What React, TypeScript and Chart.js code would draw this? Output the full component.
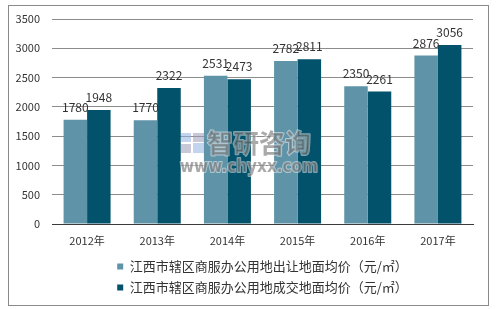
import React, { useEffect, useRef } from "react";
import { Chart, registerables } from "chart.js";

Chart.register(...registerables);

const categories = ["2012年", "2013年", "2014年", "2015年", "2016年", "2017年"];
const transferPrice = [1780, 1770, 2531, 2782, 2350, 2876];
const dealPrice = [1948, 2322, 2473, 2811, 2261, 3056];
const seriesNames = [
  "江西市辖区商服办公用地出让地面均价（元/㎡）",
  "江西市辖区商服办公用地成交地面均价（元/㎡）",
];
const yMin = 0;
const yMax = 3500;
const yStep = 500;

const LIGHT = "#5E93A8";
const DARK = "#02526B";
const FONT = "'Noto Sans CJK SC', 'Noto Sans', sans-serif";

const valueLabels = {
  id: "valueLabels",
  afterDatasetsDraw(chart: any) {
    const ctx = chart.ctx;
    ctx.save();
    ctx.font = `12px ${FONT}`;
    ctx.fillStyle = "#333333";
    ctx.textAlign = "center";
    ctx.textBaseline = "alphabetic";
    chart.data.datasets.forEach((ds: any, di: number) => {
      const meta = chart.getDatasetMeta(di);
      meta.data.forEach((el: any, i: number) => {
        ctx.fillText(String(ds.data[i]), el.x, el.y - 8);
      });
    });
    ctx.restore();
  },
};

const frameAndMark = {
  id: "frameAndMark",
  beforeDraw(chart: any) {
    const ctx = chart.ctx;
    ctx.save();
    ctx.fillStyle = "#ffffff";
    ctx.fillRect(0, 0, chart.width, chart.height);
    ctx.strokeStyle = "#8a8a8a";
    ctx.lineWidth = 1;
    ctx.strokeRect(8.5, 5.5, 480, 300);
    ctx.restore();
  },
  afterDatasetsDraw(chart: any) {
    const ctx = chart.ctx;
    ctx.save();
    // logo
    ctx.globalAlpha = 0.55;
    ctx.fillStyle = "#8fb0e0";
    ctx.fillRect(181, 133, 10, 9);
    ctx.fillRect(193, 143, 11, 10);
    ctx.fillStyle = "#9a9ab8";
    ctx.fillRect(181, 144, 10, 9);
    ctx.fillRect(193, 133, 11, 9);
    ctx.globalAlpha = 0.6;
    ctx.textAlign = "left";
    ctx.textBaseline = "middle";
    ctx.lineJoin = "round";
    ctx.font = `bold 26px ${FONT}`;
    ctx.strokeStyle = "rgba(255,255,255,0.8)";
    ctx.lineWidth = 2;
    ctx.strokeText("智研咨询", 207, 143, 112);
    ctx.fillStyle = "#707070";
    ctx.fillText("智研咨询", 207, 143, 112);
    ctx.font = `bold 17px 'DejaVu Sans', sans-serif`;
    ctx.strokeText("www.chyxx.com", 180, 168, 138);
    ctx.fillText("www.chyxx.com", 180, 168, 138);
    ctx.restore();
  },
};

export default function App() {
  const ref = useRef<HTMLCanvasElement | null>(null);

  useEffect(() => {
    if (!ref.current) return;
    const chart = new Chart(ref.current, {
      type: "bar",
      data: {
        labels: categories,
        datasets: [
          {
            label: seriesNames[0],
            data: transferPrice,
            backgroundColor: LIGHT,
            borderColor: LIGHT,
            borderWidth: 0,
            categoryPercentage: 0.67,
            barPercentage: 1,
          },
          {
            label: seriesNames[1],
            data: dealPrice,
            backgroundColor: DARK,
            borderColor: DARK,
            borderWidth: 0,
            categoryPercentage: 0.67,
            barPercentage: 1,
          },
        ],
      },
      options: {
        responsive: false,
        animation: false,
        devicePixelRatio: 1,
        layout: { padding: { left: 0, right: 25, top: 19, bottom: 5 } },
        plugins: {
          tooltip: { enabled: false },
          legend: {
            position: "bottom",
            fullSize: false,
            labels: {
              boxWidth: 6,
              boxHeight: 6,
              padding: 8,
              color: "#333333",
              font: { family: FONT, size: 13 },
            },
          },
        },
        scales: {
          x: {
            grid: { display: true, drawOnChartArea: false, drawTicks: false },
            border: { display: true, color: "#3a3a3a", width: 1 },
            ticks: {
              color: "#333333",
              padding: 10,
              font: { family: FONT, size: 11 },
              maxRotation: 0,
            },
            afterFit(axis: any) {
              axis.height = 28;
            },
          },
          y: {
            min: yMin,
            max: yMax,
            grid: { color: "#8c8c8c", drawTicks: false },
            border: { display: false },
            ticks: {
              stepSize: yStep,
              padding: 12,
              color: "#333333",
              font: { family: FONT, size: 11 },
              callback: (v: any) => String(v),
            },
            afterFit(axis: any) {
              axis.width = 52;
            },
          },
        },
      },
      plugins: [frameAndMark, valueLabels],
    });
    return () => chart.destroy();
  }, []);

  return (
    <div style={{ position: "fixed", left: 0, top: 0, width: 498, height: 309 }}>
      <canvas ref={ref} width={498} height={309} style={{ display: "block" }} />
    </div>
  );
}
